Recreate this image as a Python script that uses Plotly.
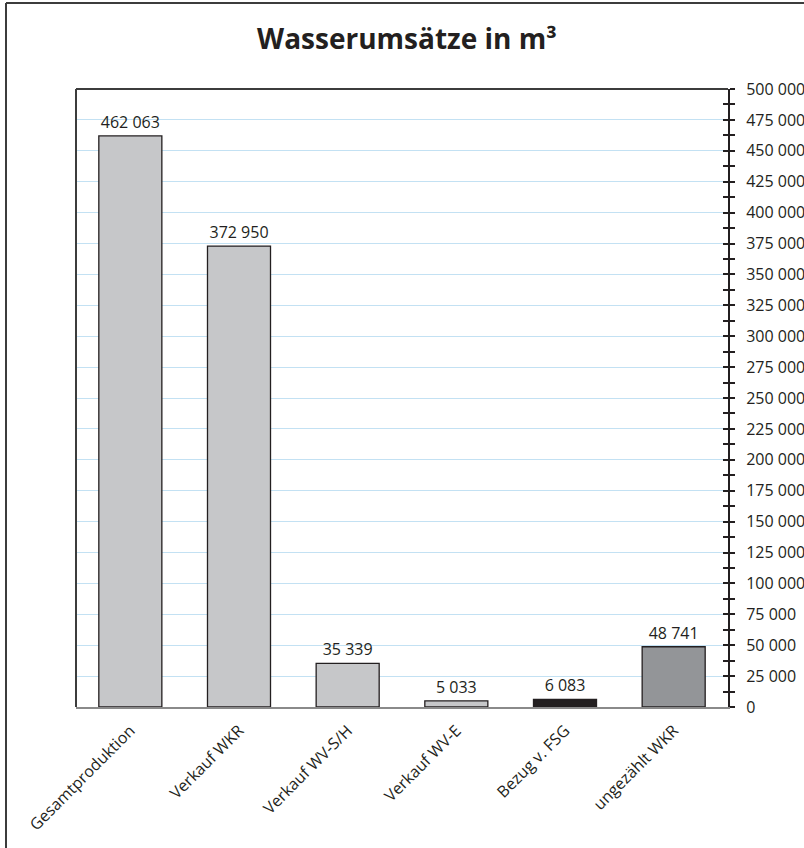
import plotly.graph_objects as go

categories = ["Gesamtproduktion", "Verkauf WKR", "Verkauf WV-S/H", "Verkauf WV-E", "Bezug v. FSG", "ungezählt WKR"]
values = [462063, 372950, 35339, 5033, 6083, 48741]
bar_colors = ["#c6c7c9", "#c6c7c9", "#c6c7c9", "#c6c7c9", "#231f20", "#939598"]
title_text = "Wasserumsätze in m³"

W, H = 804, 848
ML, MR, MT, MB = 76, 76, 89, 141
PW, PH = W - ML - MR, H - MT - MB

FONT = "Open Sans"
TXT = "#231f20"

fig = go.Figure()
fig.add_trace(go.Bar(
    x=categories, y=values,
    marker=dict(color=bar_colors, line=dict(color="#231f20", width=1.3)),
    texttemplate="%{y:,d}", textposition="outside",
    textfont=dict(family=FONT, size=16, color=TXT),
    cliponaxis=False, hoverinfo="skip",
))
# invisible helper trace so the mirrored tick axis is drawn
fig.add_trace(go.Scatter(
    x=categories, y=values, yaxis="y2", mode="markers",
    marker=dict(opacity=0), hoverinfo="skip", showlegend=False,
))

fig.update_layout(
    width=W, height=H,
    margin=dict(l=ML, r=MR, t=MT, b=MB, autoexpand=False),
    paper_bgcolor="white", plot_bgcolor="white",
    separators=", ",
    showlegend=False,
    bargap=0.42,
    title=dict(text="<b>" + title_text + "</b>", x=(407 - ML) / PW, xref="paper",
               xanchor="center", y=1 - 39 / H, yanchor="middle",
               font=dict(family=FONT, size=28, color=TXT)),
    font=dict(family=FONT, color=TXT),
    xaxis=dict(
        type="category", showline=True, linecolor="#8a8a8a", linewidth=2,
        showgrid=False, ticks="", tickangle=-45,
        tickfont=dict(family=FONT, size=16, color=TXT),
        ticklabelstandoff=6, automargin=False,
    ),
    yaxis=dict(
        side="right", range=[0, 500000], dtick=25000, tickformat=",d",
        showline=True, linecolor="#231f20", linewidth=2,
        showgrid=True, gridcolor="#c3e1f3", gridwidth=1,
        ticks="outside", ticklen=5, tickwidth=1.5, tickcolor="#231f20",
        minor=dict(dtick=12500, ticks="outside", ticklen=5, tickwidth=1.5,
                   tickcolor="#231f20", showgrid=False),
        tickfont=dict(family=FONT, size=16, color=TXT),
        ticklabelstandoff=8, zeroline=False, automargin=False,
    ),
    yaxis2=dict(
        overlaying="y", side="right", range=[0, 500000], dtick=25000,
        showline=False, showgrid=False, showticklabels=False, zeroline=False,
        ticks="inside", ticklen=5, tickwidth=1.5, tickcolor="#231f20",
        minor=dict(dtick=12500, ticks="inside", ticklen=5, tickwidth=1.5,
                   tickcolor="#231f20", showgrid=False),
    ),
    shapes=[
        # plot-area left and top border
        dict(type="line", xref="paper", yref="paper", x0=0, x1=0, y0=0, y1=1,
             line=dict(color="#3c3c3c", width=2), layer="above"),
        dict(type="line", xref="paper", yref="paper", x0=0, x1=1, y0=1, y1=1,
             line=dict(color="#3c3c3c", width=2), layer="above"),
        # outer chart frame (left + top)
        dict(type="line", xref="paper", yref="paper",
             x0=(6 - ML) / PW, x1=(6 - ML) / PW, y0=-(MB + 10) / PH, y1=1 + (MT - 3) / PH,
             line=dict(color="#3c3c3c", width=2)),
        dict(type="line", xref="paper", yref="paper",
             x0=(6 - ML) / PW, x1=1 + (MR + 10) / PW, y0=1 + (MT - 3) / PH, y1=1 + (MT - 3) / PH,
             line=dict(color="#3c3c3c", width=2)),
    ],
)

fig.write_html("out.html", config={"displayModeBar": False},
               post_script="document.body.style.margin='0px';document.body.style.overflow='hidden';")
